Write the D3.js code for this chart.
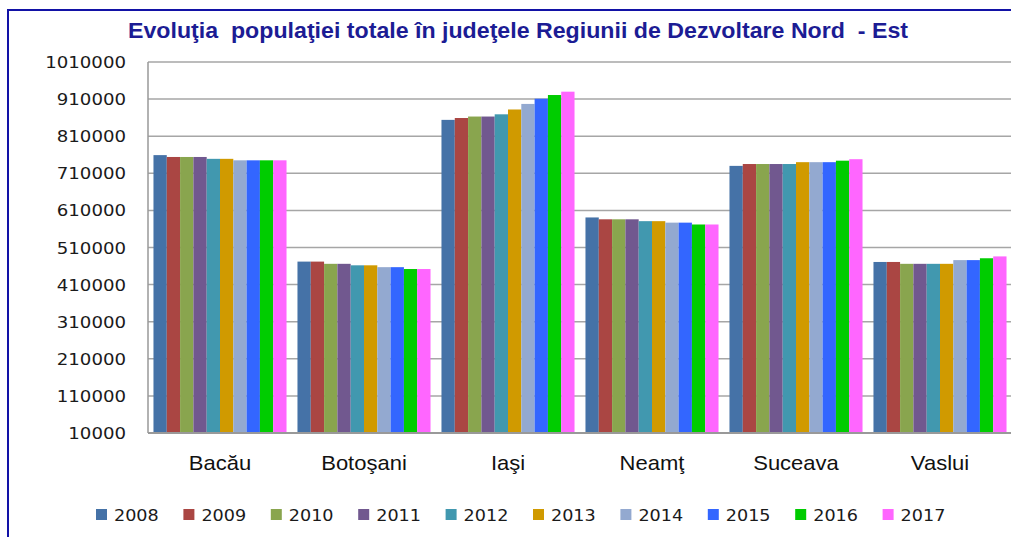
<!DOCTYPE html>
<html>
<head>
<meta charset="utf-8">
<script src="https://cdn.jsdelivr.net/npm/d3@7"></script>
<style>
  body { margin: 0; background: #fff; }
  svg text { white-space: pre; }
</style>
</head>
<body>
<div class="canvas"></div>
<script>
// data
const counties = ['Bacău', 'Botoşani', 'Iaşi', 'Neamţ', 'Suceava', 'Vaslui'];
const years = ['2008', '2009', '2010', '2011', '2012', '2013', '2014', '2015', '2016', '2017'];

const bacau   = [759000, 754000, 754000, 754000, 749000, 749000, 745000, 745000, 745000, 745000];
const botosani = [472000, 472000, 466000, 466000, 462000, 462000, 457000, 457000, 452000, 452000];
const iasi    = [854000, 859000, 863000, 863000, 869000, 882000, 897000, 911000, 921000, 930000];
const neamt   = [591000, 586000, 586000, 586000, 581000, 581000, 577000, 577000, 572000, 572000];
const suceava = [730000, 735000, 735000, 735000, 735000, 740000, 740000, 740000, 744000, 748000];
const vaslui  = [471000, 471000, 466000, 466000, 466000, 466000, 476000, 476000, 481000, 486000];

const yTicks = [10000, 110000, 210000, 310000, 410000, 510000, 610000, 710000, 810000, 910000, 1010000];
const colors = ['#4572A7', '#AA4643', '#89A54E', '#71588F', '#4198AF', '#D09A00', '#93A9D0', '#3366FF', '#00CC00', '#FF66FF'];

const values = [bacau, botosani, iasi, neamt, suceava, vaslui];
const data = counties.map((c, i) => ({ name: c, vals: values[i] }));

const dims = { width: 1011, height: 537 };
const plot = { left: 148, right: 1012, top: 62, bottom: 433 };
const SX = 1.1; // excel text looks a bit wider

const svg = d3.select('.canvas')
    .append('svg')
    .attr('width', dims.width)
    .attr('height', dims.height);

// outer frame (only left & top visible in the picture)
svg.append('rect')
    .attr('x', 8).attr('y', 10)
    .attr('width', 1100).attr('height', 600)
    .attr('fill', 'none')
    .attr('stroke', '#1212a6')
    .attr('stroke-width', 2);

// title
svg.append('text')
    .attr('x', 518).attr('y', 38)
    .attr('text-anchor', 'middle')
    .attr('font-family', 'Liberation Sans, Arial, sans-serif')
    .attr('font-weight', 'bold')
    .attr('font-size', 22)
    .attr('fill', '#1c1c94')
    .attr('textLength', 780)
    .attr('lengthAdjust', 'spacingAndGlyphs')
    .text('Evoluţia  populaţiei totale în judeţele Regiunii de Dezvoltare Nord  - Est');

// scales
const y = d3.scaleLinear()
    .domain([10000, 1010000])
    .range([plot.bottom, plot.top]);

const x0 = d3.scaleBand()
    .domain(counties)
    .range([plot.left, plot.right])
    .paddingInner(0.076)
    .paddingOuter(0.038);

const x1 = d3.scaleBand()
    .domain(years)
    .range([0, x0.bandwidth()]);

const color = d3.scaleOrdinal().domain(years).range(colors);

// gridlines
svg.append('g')
    .selectAll('line')
    .data(yTicks)
    .enter().append('line')
    .attr('x1', plot.left).attr('x2', plot.right)
    .attr('y1', d => y(d)).attr('y2', d => y(d))
    .attr('stroke', '#a6a6a6')
    .attr('stroke-width', 1.5);

// y tick labels
svg.append('g')
    .selectAll('text')
    .data(yTicks)
    .enter().append('text')
    .attr('transform', d => `translate(126, ${y(d) + 6}) scale(${SX},1)`)
    .attr('text-anchor', 'end')
    .attr('font-family', 'DejaVu Sans, Verdana, sans-serif')
    .attr('font-size', 16.5)
    .attr('fill', '#1a1a1a')
    .text(d => d);

// bars
const groups = svg.append('g')
    .selectAll('g')
    .data(data)
    .enter().append('g')
    .attr('transform', d => `translate(${x0(d.name)}, 0)`);

groups.selectAll('rect')
    .data(d => d.vals.map((v, i) => ({ year: years[i], value: v })))
    .enter().append('rect')
    .attr('x', d => x1(d.year))
    .attr('width', x1.bandwidth())
    .attr('y', d => y(d.value))
    .attr('height', d => y(10000) - y(d.value))
    .attr('fill', d => color(d.year));

// axis lines
svg.append('line')
    .attr('x1', plot.left).attr('x2', plot.left)
    .attr('y1', plot.top).attr('y2', plot.bottom)
    .attr('stroke', '#999').attr('stroke-width', 1.5);
svg.append('line')
    .attr('x1', plot.left).attr('x2', plot.right)
    .attr('y1', plot.bottom).attr('y2', plot.bottom)
    .attr('stroke', '#999').attr('stroke-width', 2);

// category labels
svg.append('g')
    .selectAll('text')
    .data(counties)
    .enter().append('text')
    .attr('transform', d => `translate(${x0(d) + x0.bandwidth() / 2}, 470) scale(${SX},1)`)
    .attr('text-anchor', 'middle')
    .attr('font-family', 'Liberation Sans, Arial, sans-serif')
    .attr('font-size', 20)
    .attr('fill', '#111')
    .text(d => d);

// legend
const legend = svg.append('g')
    .selectAll('g')
    .data(years)
    .enter().append('g')
    .attr('transform', (d, i) => `translate(${96 + i * 87.4}, 509)`);

legend.append('rect')
    .attr('width', 11).attr('height', 11)
    .attr('fill', d => color(d));

legend.append('text')
    .attr('transform', `translate(18, 12) scale(${SX},1)`)
    .attr('font-family', 'DejaVu Sans, Verdana, sans-serif')
    .attr('font-size', 16)
    .attr('fill', '#1a1a1a')
    .text(d => d);
</script>
</body>
</html>
